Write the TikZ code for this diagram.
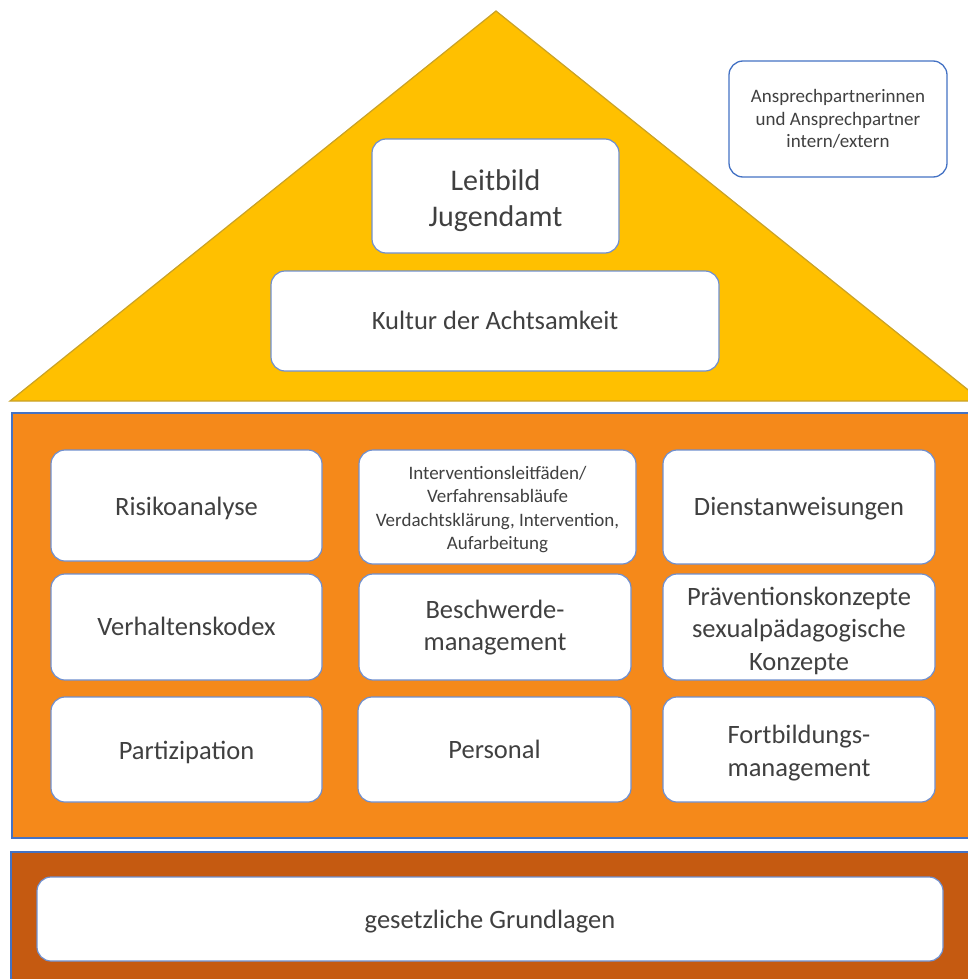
\documentclass[tikz,border=0pt]{standalone}
\usepackage{fontspec}
\setmainfont{Carlito}
\definecolor{roof}{HTML}{FFC000}
\definecolor{roofline}{HTML}{C9A227}
\definecolor{body}{HTML}{F5891A}
\definecolor{basec}{HTML}{C55A11}
\definecolor{bluel}{HTML}{4472C4}
\definecolor{boxl}{HTML}{6F8FCF}
\definecolor{txt}{HTML}{404040}
\newcommand\lowtxt[2][3.5pt]{\raisebox{-#1}[\height][\depth]{\begin{tabular}{@{}c@{}}#2\end{tabular}}}
\tikzset{
  box/.style={draw=boxl, line width=1.2pt, fill=white, rounded corners=14pt, inner sep=0pt, align=center, text=txt, font=\fontsize{26.5}{32.5}\selectfont},
  bigtxt/.style={font=\fontsize{30}{36}\selectfont},
  smalltxt/.style={font=\fontsize{19}{23.5}\selectfont},
  contact/.style={draw=bluel, line width=1.3pt, fill=white, rounded corners=14pt, inner sep=0pt, align=center, text=txt, font=\fontsize{19}{22.5}\selectfont}
}
\begin{document}
\begin{tikzpicture}[x=1pt,y=-1pt]
\useasboundingbox (0,0) rectangle (968,979);
\clip (0,0) rectangle (968,979);
% roof
\path[fill=roof, draw=roofline, line width=1.2pt] (496,11) -- (10,401) -- (982,401) -- cycle;
% body
\path[fill=body, draw=bluel, line width=1.5pt] (12,413) rectangle (990,838);
% base
\path[fill=basec, draw=bluel, line width=1.5pt] (11,852) rectangle (990,1000);
% roof boxes
\node[box, bigtxt, minimum width=247pt, minimum height=114pt] (leitbild) at (495.5,196) {\lowtxt[5pt]{Leitbild\\Jugendamt}};
\node[box, minimum width=448pt, minimum height=100pt] (kultur) at (495,321) {\lowtxt[2pt]{Kultur der Achtsamkeit}};
\node[contact, minimum width=218pt, minimum height=116pt] (ansprech) at (838,119) {Ansprechpartnerinnen\\und Ansprechpartner\\intern/extern};
% grid row 1
\node[box, minimum width=271pt, minimum height=111pt] (risiko) at (186.5,505.5) {\lowtxt[3pt]{Risikoanalyse}};
\node[box, smalltxt, minimum width=277pt, minimum height=114pt] (interv) at (497.5,507) {\lowtxt[3pt]{Interventionsleitfäden/\\Verfahrensabläufe\\Verdachtsklärung, Intervention,\\Aufarbeitung}};
\node[box, minimum width=272pt, minimum height=114pt] (dienst) at (799,507) {\lowtxt[2pt]{Dienstanweisungen}};
% row 2
\node[box, minimum width=271pt, minimum height=106pt] (verhalten) at (186.5,627) {\lowtxt[2pt]{Verhaltenskodex}};
\node[box, minimum width=272pt, minimum height=106pt] (beschwerde) at (495,627) {\lowtxt[1pt]{Beschwerde-\\management}};
\node[box, minimum width=272pt, minimum height=106pt] (praev) at (799,627) {\lowtxt[4pt]{Präventionskonzepte\\sexualpädagogische\\Konzepte}};
% row 3
\node[box, minimum width=271pt, minimum height=105pt] (partizipation) at (186.5,749.5) {\lowtxt[3pt]{Partizipation}};
\node[box, minimum width=273pt, minimum height=105pt] (personal) at (494.5,749.5) {\lowtxt[2pt]{Personal}};
\node[box, minimum width=272pt, minimum height=105pt] (fortbildung) at (799,749.5) {\lowtxt[4pt]{Fortbildungs-\\management}};
% base box
\node[box, minimum width=906pt, minimum height=84pt] (gesetz) at (490,919) {\lowtxt[3pt]{gesetzliche Grundlagen}};
\end{tikzpicture}
\end{document}
